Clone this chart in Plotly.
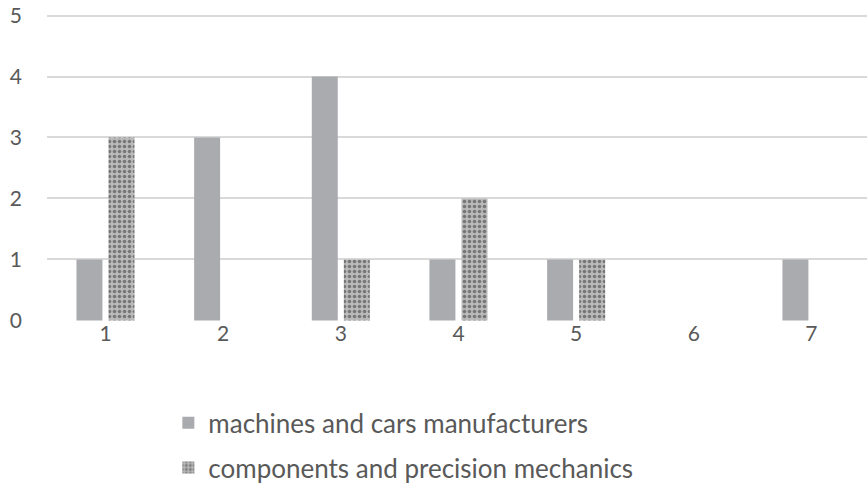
import plotly.graph_objects as go

categories = ["1", "2", "3", "4", "5", "6", "7"]
machines = [1, 3, 4, 1, 1, 0, 1]
components = [3, 0, 1, 2, 1, 0, 0]
series_names = ["machines and cars manufacturers", "components and precision mechanics"]
y_ticks = [0, 1, 2, 3, 4, 5]

x_pos = list(range(1, len(categories) + 1))

fig = go.Figure()
fig.add_trace(go.Bar(
    x=x_pos, y=machines, name=series_names[0],
    marker=dict(color="#aaabae", line=dict(width=0)),
    legendgroup="a",
))
fig.add_trace(go.Bar(
    x=x_pos, y=components, name=series_names[1],
    marker=dict(color="#b8b8b8", line=dict(width=0),
                pattern=dict(shape=".", fgcolor="#333333", bgcolor="#b9b9b9",
                             size=5, solidity=0.4, fillmode="overlay")),
    legendgroup="b",
))

font_fam = "Lato, 'Open Sans', sans-serif"
fig.update_layout(
    width=867, height=485,
    margin=dict(l=47, r=0, t=14, b=164, autoexpand=False),
    paper_bgcolor="white", plot_bgcolor="white",
    barmode="group", bargap=0.455, bargroupgap=0.19,
    font=dict(family=font_fam, color="#595959", size=21),
    xaxis=dict(range=[0.503, 7.472], tickmode="array", tickvals=x_pos, ticktext=categories,
               showgrid=False, zeroline=False, showline=False, ticklabelstandoff=-2,
               tickfont=dict(size=21, color="#595959")),
    yaxis=dict(range=[-0.01, 5.025], tickvals=y_ticks, showgrid=True, gridcolor="#d9d9d9", gridwidth=2,
               zeroline=False, showline=False, ticklabelstandoff=24,
               tickfont=dict(size=21, color="#595959")),
    legend=dict(orientation="v", x=0.148, y=-0.255, xanchor="left", yanchor="top",
                font=dict(size=26, color="#595959"),
                traceorder="grouped", tracegroupgap=8, itemwidth=30),
    showlegend=True,
)

fig.write_html("out.html", config={"displayModeBar": False},
               post_script="document.body.style.margin='0';")
